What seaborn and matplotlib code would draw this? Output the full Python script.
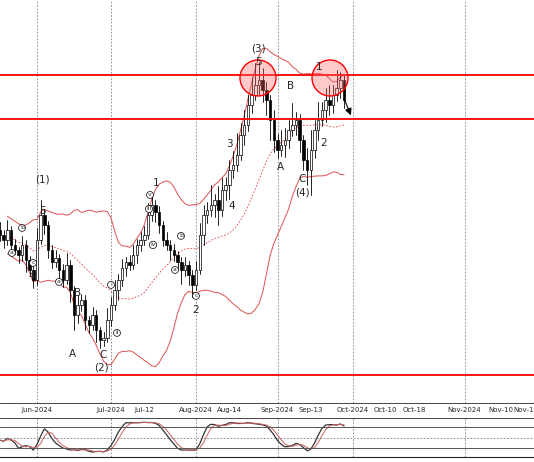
import numpy as np
import pandas as pd
import matplotlib
matplotlib.use("Agg")
import matplotlib.pyplot as plt
import seaborn as sns
from matplotlib.patches import Ellipse, Rectangle

# daily closes (price units = pixels above the bottom of the price panel)
close = [165, 160, 170, 155, 150, 145, 155, 140, 130, 120, 160, 185, 175, 150, 138, 142,
         130, 120, 135, 110, 85, 95, 100, 80, 75, 85, 70, 60, 62, 80, 95, 110, 120, 132,
         138, 135, 145, 155, 160, 165, 185, 195, 188, 175, 160, 155, 150, 145, 138, 130,
         135, 125, 115, 130, 165, 185, 190, 195, 200, 190, 210, 215, 230, 235, 245, 265,
         275, 295, 305, 315, 320, 310, 300, 280, 260, 250, 255, 260, 270, 275, 280, 260,
         240, 230, 250, 270, 280, 290, 300, 295, 305, 312, 320, 300]
upper_wick = [8, 5, 10, 4, 6, 3, 9, 5, 4, 6, 12, 15, 6, 4, 5, 8, 4, 6, 12, 5, 4, 10, 6, 5,
              4, 8, 5, 3, 6, 12, 8, 10, 6, 9, 5, 7, 10, 6, 8, 9, 12, 10, 5, 6, 4, 8, 5, 6,
              4, 5, 8, 4, 5, 9, 12, 10, 8, 20, 6, 14, 12, 8, 10, 14, 22, 12, 15, 10, 18, 22,
              18, 12, 8, 5, 10, 6, 15, 12, 10, 22, 8, 6, 5, 12, 20, 10, 18, 8, 12, 15, 10, 18,
              8, 6]
lower_wick = [6, 8, 5, 10, 4, 8, 6, 12, 6, 8, 5, 4, 9, 8, 6, 5, 10, 7, 4, 12, 15, 8, 6, 10,
              8, 5, 12, 8, 6, 4, 6, 5, 10, 6, 8, 5, 4, 8, 6, 5, 4, 6, 10, 8, 6, 5, 10, 6,
              8, 14, 6, 10, 12, 5, 4, 10, 8, 6, 12, 15, 6, 10, 14, 8, 6, 5, 10, 6, 8, 5,
              10, 12, 15, 20, 12, 8, 6, 12, 8, 6, 10, 12, 10, 15, 25, 8, 10, 6, 12, 10, 8, 6,
              10, 8]
open_ = [close[0] + 5] + close[:-1]

tick_dates = ["2024-06-03", "2024-07-01", "2024-07-12", "2024-08-01", "2024-08-14",
              "2024-09-02", "2024-09-13", "2024-10-01", "2024-10-10", "2024-10-18",
              "2024-11-01", "2024-11-11", "2024-11-18"]
tick_labels = ["Jun-2024", "Jul-2024", "Jul-12", "Aug-2024", "Aug-14", "Sep-2024", "Sep-13",
               "Oct-2024", "Oct-10", "Oct-18", "Nov-2024", "Nov-10", "Nov-18"]
month_starts = ["2024-06-03", "2024-07-01", "2024-08-01", "2024-09-02", "2024-10-01", "2024-11-01"]
levels = [325, 281, 25]

# wave labels: text, x pixel, y pixel, circled
waves = [("(1)", 42, 180, 0), ("5", 42, 211, 0), ("b", 22, 228, 1), ("a", 12, 253, 1),
         ("c", 33, 263, 1), ("4", 32, 276, 0), ("a", 59, 282, 1), ("B", 78, 293, 0),
         ("A", 72, 354, 0), ("C", 103, 355, 0), ("(2)", 101, 368, 0), ("i", 111, 285, 1),
         ("ii", 117, 333, 1), ("v", 150, 195, 1), ("iii", 149, 209, 1), ("iv", 153, 245, 1),
         ("1", 156, 183, 0), ("a", 175, 270, 1), ("b", 181, 236, 1), ("c", 196, 296, 1),
         ("2", 196, 310, 0), ("3", 229, 144, 0), ("4", 232, 206, 0), ("(3)", 258, 49, 0),
         ("5", 258, 62, 0), ("B", 291, 86, 0), ("A", 280, 167, 0), ("C", 302, 179, 0),
         ("(4)", 302, 193, 0), ("1", 319, 67, 0), ("2", 324, 143, 0)]

PX = 3.7  # pixels per trading day
bdays = pd.bdate_range("2024-05-20", "2024-09-27")
last = pd.Timestamp("2024-09-27")
oct1 = pd.Timestamp("2024-10-01")
def dpos(d):
    d = pd.Timestamp(d)
    if d <= last:
        return bdays.get_indexer([d])[0]
    # future area is spaced by calendar days
    return 95.4 + (d - oct1).days * 3.6 / PX

sns.set_style("white")
fig = plt.figure(figsize=(5.34, 4.62), dpi=100)
ax = fig.add_axes([0, 0.128, 1, 0.872])
ax2 = fig.add_axes([0, 0.01, 1, 0.085])

s = pd.Series(close, dtype=float)
mid = s.rolling(20, min_periods=3).mean()
sd = s.rolling(20, min_periods=6).std().bfill()
idx = np.arange(len(close))
ax.plot(idx, mid, color="#e04040", lw=0.6, ls=(0, (2, 2)))
ax.plot(idx, mid + 2 * sd, color="#e05050", lw=0.7)
ax.plot(idx, mid - 2 * sd, color="#e05050", lw=0.7)

for i in idx:
    o, c = open_[i], close[i]
    hi = max(o, c) + upper_wick[i]
    lo = min(o, c) - lower_wick[i]
    ax.plot([i, i], [lo, hi], color="black", lw=0.6, zorder=3)
    fc = "white" if c >= o else "black"
    ax.add_patch(Rectangle((i - 0.33, min(o, c)), 0.66, max(abs(c - o), 1),
                           facecolor=fc, edgecolor="black", lw=0.5, zorder=4))

for lv in levels:
    ax.axhline(lv, color="red", lw=1.3, zorder=5)
for d in month_starts:
    ax.axvline(dpos(d), color="gray", lw=0.6, ls=(0, (2, 2)), zorder=0)
    ax2.axvline(dpos(d), color="gray", lw=0.6, ls=(0, (2, 2)), zorder=0)

for cx in (258, 330):
    ax.add_patch(Ellipse((cx / PX, 400 - 78), 36 / PX, 36,
                         facecolor=(1, 0.4, 0.4, 0.35), edgecolor="red", lw=1.0, zorder=6))
ax.annotate("", xy=(352 / PX, 400 - 118), xytext=(343 / PX, 400 - 96),
            arrowprops=dict(arrowstyle="-|>", color="black", lw=0.8), zorder=7)

for t, x, y, circ in waves:
    if circ:
        ax.text(x / PX, 400 - y, t, fontsize=4.5, ha="center", va="center", zorder=8,
                bbox=dict(boxstyle="circle,pad=0.15", fc="white", ec="black", lw=0.5))
    else:
        ax.text(x / PX, 400 - y, t, fontsize=7.5, ha="center", va="center", zorder=8)

ax.set_xlim(0, 534 / PX)
ax.set_ylim(-3, 400)
ax.set_yticks([])
ax.set_xticks([dpos(d) for d in tick_dates])
ax.set_xticklabels(tick_labels, fontsize=5)
ax.tick_params(axis="x", length=2, pad=1)
for sp in ax.spines.values():
    sp.set_visible(False)
ax.spines["bottom"].set_visible(True)
ax.spines["bottom"].set_linewidth(0.6)

# stochastic oscillator computed from the candles
hi_s = s + pd.Series(upper_wick)
lo_s = s - pd.Series(lower_wick)
hh = hi_s.rolling(14, min_periods=1).max()
ll = lo_s.rolling(14, min_periods=1).min()
k = (100 * (s - ll) / (hh - ll)).rolling(3, min_periods=1).mean()
dline = k.rolling(3, min_periods=1).mean()
ax2.plot(idx, k, color="#333333", lw=0.9)
ax2.plot(idx, dline, color="#d06060", lw=0.7)
ax2.axhline(80, color="#555555", lw=0.7)
ax2.axhline(20, color="#555555", lw=0.7)
ax2.axhline(50, color="#777777", lw=0.6, ls=(0, (2, 2)))
ax2.set_xlim(0, 534 / PX)
ax2.set_ylim(-5, 105)
ax2.set_xticks([])
ax2.set_yticks([])
for sp in ax2.spines.values():
    sp.set_visible(False)
ax2.spines["top"].set_visible(True)
ax2.spines["top"].set_linewidth(0.6)
ax2.spines["bottom"].set_visible(True)

fig.savefig("out.png", dpi=100)
